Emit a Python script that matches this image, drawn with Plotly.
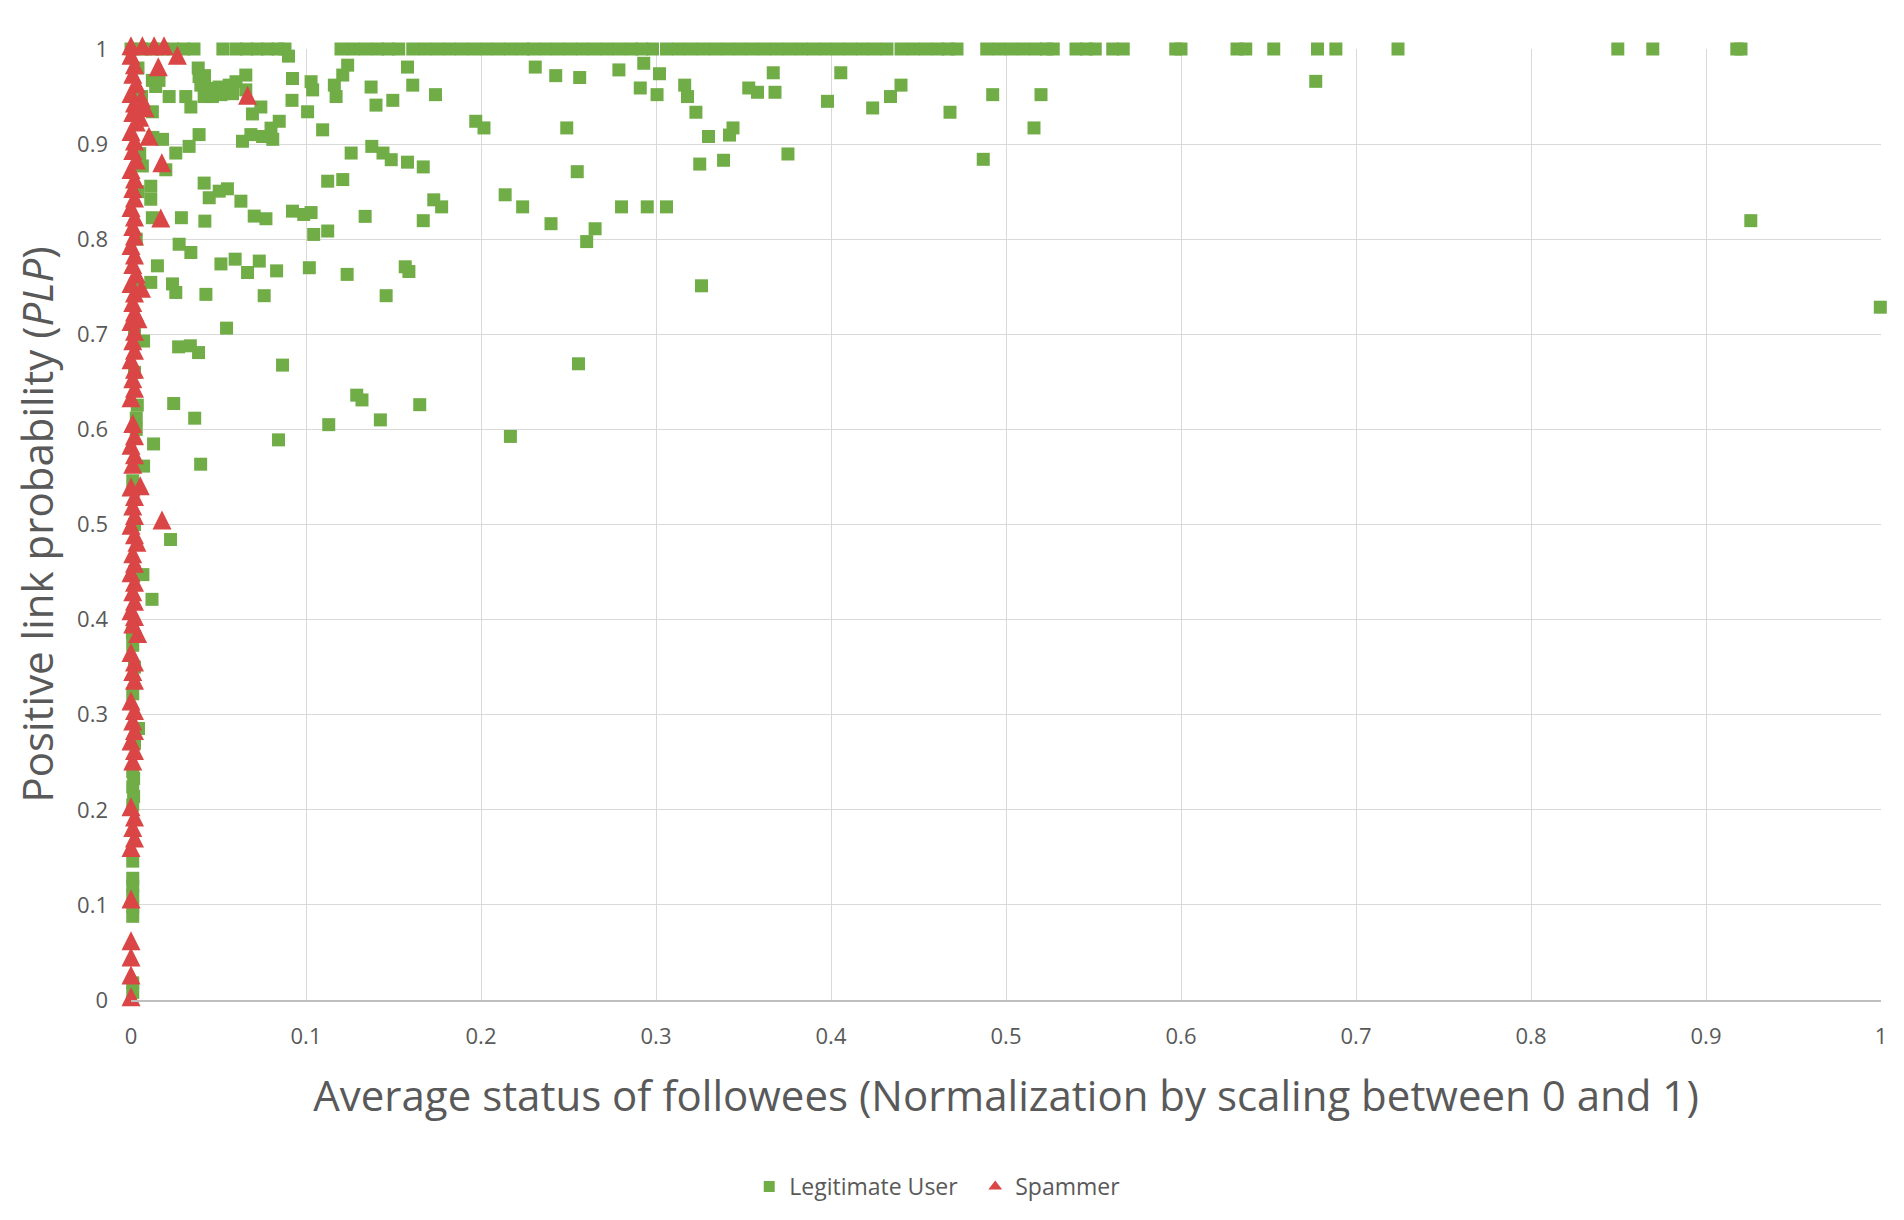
import plotly.graph_objects as go

# ---------------- data ----------------
# Legitimate users lying on the PLP = 1 line (x positions)
legit_top_x = [
    0.000, 0.006, 0.012, 0.018, 0.024, 0.030, 0.036,
    0.0525, 0.060, 0.066, 0.072, 0.078, 0.084, 0.088,
    0.120, 0.127, 0.134, 0.141, 0.147, 0.153, 0.161, 0.168, 0.175, 0.182,
    0.189, 0.196, 0.203, 0.210, 0.217, 0.224, 0.230, 0.237, 0.244, 0.251,
    0.258, 0.265, 0.272, 0.279, 0.286, 0.292, 0.298, 0.306, 0.313, 0.320,
    0.327, 0.334, 0.341, 0.348, 0.355, 0.362, 0.369, 0.376, 0.383, 0.390,
    0.397, 0.404, 0.411, 0.418, 0.425, 0.432, 0.440, 0.447, 0.454, 0.461,
    0.467, 0.472,
    0.489, 0.496, 0.503, 0.510, 0.517, 0.523, 0.527,
    0.540, 0.546, 0.551, 0.561, 0.567, 0.597, 0.600, 0.632, 0.637,
    0.653, 0.678, 0.6885, 0.724, 0.8496, 0.8696, 0.9176, 0.920,
]
legit_top_y = 1.0

# Other legitimate users
legit_x = [
    # column at x ~ 0
    0.001, 0.001, 0.001, 0.001, 0.001, 0.001, 0.001, 0.001, 0.001, 0.0015,
    0.001, 0.0015, 0.001, 0.001, 0.001, 0.0008, 0.001, 0.002, 0.002, 0.002,
    0.002, 0.003, 0.003, 0.004, 0.005, 0.006, 0.004, 0.002, 0.002, 0.003,
    0.0043, 0.0036, 0.003, 0.0072, 0.0068, 0.012, 0.0072,
    # x < 0.16
    0.0384, 0.0389, 0.0420, 0.0656, 0.0656, 0.0399, 0.0447, 0.0504, 0.0561, 0.0600,
    0.0418, 0.0465, 0.0514, 0.0580, 0.0218, 0.0313, 0.0342, 0.0122, 0.0141, 0.0122,
    0.0160, 0.0694, 0.0742, 0.0847, 0.0800, 0.0752, 0.0810, 0.0637, 0.0685, 0.0389,
    0.0332, 0.0256, 0.0199, 0.0180, 0.0125, 0.0065, 0.0113, 0.0418, 0.0447, 0.0504,
    0.0551, 0.0628, 0.0704, 0.0771, 0.0422, 0.0288, 0.0113, 0.0122, 0.0923, 0.0987,
    0.1029, 0.1044, 0.1124, 0.1338, 0.0275, 0.0342, 0.0151, 0.0113, 0.0237, 0.0256,
    0.0428, 0.0514, 0.0595, 0.0666, 0.0733, 0.0832, 0.1019, 0.1235, 0.0761, 0.1458,
    0.1095, 0.1258, 0.1376, 0.1440, 0.1487, 0.1124, 0.1210, 0.0923, 0.1029, 0.1038,
    0.0920, 0.1009, 0.1162, 0.1172, 0.1210, 0.1238, 0.1372, 0.1400, 0.1496, 0.0900,
    0.0546, 0.0272, 0.0339, 0.0386, 0.0866, 0.0244, 0.0364, 0.0129, 0.0843, 0.0398,
    0.0226, 0.129, 0.132, 0.165, 0.1425, 0.113, 0.2168,
    # x >= 0.15
    0.158, 0.161, 0.174, 0.197, 0.2017, 0.231, 0.2427, 0.2564, 0.249, 0.2788,
    0.293, 0.302, 0.291, 0.3006, 0.3164, 0.318, 0.3228, 0.330, 0.342, 0.344,
    0.353, 0.358, 0.368, 0.367, 0.398, 0.4056, 0.4238, 0.434, 0.440, 0.468,
    0.4924, 0.487, 0.158, 0.167, 0.255, 0.325, 0.3386, 0.3754, 0.173, 0.1775,
    0.167, 0.2138, 0.2238, 0.240, 0.2652, 0.2604, 0.2803, 0.295, 0.306, 0.1567,
    0.1588, 0.326, 0.2557,
    0.677, 0.520, 0.516, 0.9256, 0.9996,
]
legit_y = [
    # column at x ~ 0
    0.008, 0.018, 0.088, 0.098, 0.110, 0.120, 0.128, 0.146, 0.205, 0.214,
    0.224, 0.233, 0.240, 0.322, 0.373, 0.386, 0.546, 0.450, 0.500, 0.660,
    0.700, 0.750, 0.800, 0.850, 0.890, 0.950, 0.980, 0.270, 0.350, 0.600,
    0.2855, 0.6255, 0.612, 0.6929, 0.4473, 0.4213, 0.5614,
    # x < 0.16
    0.980, 0.971, 0.972, 0.9726, 0.957, 0.962, 0.9587, 0.960, 0.962, 0.9656,
    0.950, 0.950, 0.952, 0.953, 0.950, 0.950, 0.939, 0.934, 0.9606, 0.967,
    0.967, 0.9317, 0.939, 0.924, 0.9168, 0.908, 0.905, 0.903, 0.910, 0.910,
    0.8976, 0.8906, 0.873, 0.905, 0.907, 0.877, 0.8557, 0.859, 0.8436, 0.8505,
    0.853, 0.840, 0.8243, 0.8215, 0.819, 0.8226, 0.842, 0.8226, 0.8295, 0.826,
    0.828, 0.805, 0.8086, 0.824, 0.7947, 0.786, 0.772, 0.7546, 0.753, 0.744,
    0.742, 0.774, 0.779, 0.765, 0.777, 0.7667, 0.770, 0.763, 0.7406, 0.7406,
    0.915, 0.8906, 0.8976, 0.8906, 0.8836, 0.861, 0.8627, 0.969, 0.9656, 0.957,
    0.946, 0.934, 0.962, 0.950, 0.9726, 0.983, 0.960, 0.941, 0.946, 0.9925,
    0.7065, 0.6868, 0.6879, 0.6808, 0.6676, 0.6272, 0.6118, 0.5847, 0.589, 0.5634,
    0.4842, 0.636, 0.631, 0.626, 0.610, 0.605, 0.5926,
    # x >= 0.15
    0.981, 0.962, 0.952, 0.924, 0.917, 0.981, 0.972, 0.970, 0.917, 0.978,
    0.985, 0.974, 0.959, 0.952, 0.962, 0.950, 0.9335, 0.908, 0.9095, 0.917,
    0.959, 0.9545, 0.9545, 0.975, 0.945, 0.975, 0.938, 0.950, 0.962, 0.9335,
    0.952, 0.884, 0.881, 0.876, 0.871, 0.879, 0.883, 0.8896, 0.8414, 0.834,
    0.8195, 0.8467, 0.834, 0.8163, 0.811, 0.7975, 0.834, 0.834, 0.834, 0.771,
    0.766, 0.751, 0.669,
    0.966, 0.952, 0.917, 0.8195, 0.7285,
]

# Spammers
spam_x = [
    0.000, 0.0065, 0.0132, 0.0189, 0.0265, 0.0156, 0.0666, 0.0103, 0.0176, 0.0170,
    0.0177, 0.0053, 0.0034, 0.0038, 0.008, 0.006, 0.005, 0.006, 0.004,
    # column 0.99 .. 0.63
    0.000, 0.002, 0.001, 0.003, 0.000, 0.002, 0.001, 0.003, 0.000, 0.002,
    0.001, 0.003, 0.000, 0.002, 0.001, 0.002, 0.000, 0.002, 0.001, 0.002,
    0.000, 0.002, 0.001, 0.003, 0.000, 0.002, 0.001, 0.002, 0.000, 0.002,
    0.001, 0.002, 0.000, 0.002, 0.001, 0.002, 0.000,
    # 0.603 .. 0.560
    0.001, 0.002, 0.000, 0.002, 0.001,
    # 0.536 .. 0.392
    0.000, 0.002, 0.001, 0.002, 0.000, 0.002, 0.001, 0.002, 0.000, 0.002,
    0.001, 0.002, 0.000, 0.002, 0.001,
    # 0.362 .. 0.333
    0.000, 0.002, 0.001, 0.002,
    # 0.311 .. 0.248
    0.000, 0.002, 0.001, 0.002, 0.000, 0.002, 0.001,
    # 0.200 .. 0.157
    0.000, 0.002, 0.001, 0.002, 0.000,
    # bottom
    0.000, 0.000, 0.000, 0.000, 0.000,
]
spam_y = [
    1.0, 1.0, 1.0, 1.0, 0.990, 0.978, 0.948, 0.905, 0.877, 0.819,
    0.5015, 0.5375, 0.478, 0.382, 0.935, 0.945, 0.925, 0.745, 0.713,
    0.99, 0.98, 0.97, 0.96, 0.95, 0.94, 0.93, 0.92, 0.91, 0.90,
    0.89, 0.88, 0.87, 0.86, 0.85, 0.84, 0.83, 0.82, 0.81, 0.80,
    0.79, 0.78, 0.77, 0.76, 0.75, 0.74, 0.73, 0.72, 0.71, 0.70,
    0.69, 0.68, 0.67, 0.66, 0.65, 0.64, 0.63,
    0.603, 0.590, 0.580, 0.570, 0.560,
    0.536, 0.526, 0.516, 0.506, 0.496, 0.486, 0.466, 0.456, 0.446, 0.436,
    0.426, 0.416, 0.406, 0.400, 0.392,
    0.362, 0.352, 0.342, 0.333,
    0.311, 0.301, 0.290, 0.280, 0.269, 0.259, 0.248,
    0.200, 0.189, 0.178, 0.167, 0.157,
    0.103, 0.059, 0.042, 0.023, 0.000,
]

tick_vals = [0, 0.1, 0.2, 0.3, 0.4, 0.5, 0.6, 0.7, 0.8, 0.9, 1]
tick_text = ["0", "0.1", "0.2", "0.3", "0.4", "0.5", "0.6", "0.7", "0.8", "0.9", "1"]

series_names = ["Legitimate User", "Spammer"]
GREEN = "#70AD47"
RED = "#DA4545"
TEXT = "#595959"
FONT = "Open Sans"

# spammer marker: a tall triangle (as tall as it is wide), centred on its centroid
TRI_SIZE = 19

# ---------------- figure ----------------
all_legit_x = legit_top_x + legit_x
all_legit_y = [legit_top_y for _ in legit_top_x] + legit_y

fig = go.Figure()
fig.add_trace(go.Scatter(
    x=all_legit_x, y=all_legit_y, mode="markers", name=series_names[0],
    marker=dict(symbol="square", size=13, color=GREEN, line=dict(width=0)),
    cliponaxis=False, showlegend=False,
))
fig.add_trace(go.Scatter(
    x=spam_x, y=spam_y, mode="markers", name=series_names[1],
    marker=dict(symbol="arrow-down", angle=180, standoff=TRI_SIZE * 2 / 3,
                size=TRI_SIZE, color=RED, line=dict(width=0)),
    cliponaxis=False, showlegend=False,
))
# legend entries (smaller symbols, as in the reference)
fig.add_trace(go.Scatter(
    x=[None], y=[None], mode="markers", name=series_names[0],
    marker=dict(symbol="square", size=11, color=GREEN),
))
fig.add_trace(go.Scatter(
    x=[None], y=[None], mode="markers", name=series_names[1],
    marker=dict(symbol="triangle-up", size=12, color=RED),
))

fig.update_layout(
    width=1904, height=1220,
    margin=dict(l=123, r=31, t=41, b=228, autoexpand=False),
    paper_bgcolor="white", plot_bgcolor="white",
    font=dict(family=FONT, color=TEXT, size=22),
    legend=dict(
        orientation="h", xref="container", x=0.508, xanchor="center",
        yref="container", y=0.034, yanchor="middle",
        font=dict(family=FONT, size=23, color=TEXT),
        itemwidth=30, entrywidth=181, entrywidthmode="pixels",
        traceorder="normal",
    ),
)
fig.update_xaxes(
    range=[0, 1], tickvals=tick_vals, ticktext=tick_text,
    showgrid=True, gridcolor="#D9D9D9", gridwidth=1.3,
    zeroline=False, showline=True, linecolor="#BFBFBF", linewidth=1.5,
    ticks="", ticklabelstandoff=16,
    tickfont=dict(family=FONT, size=22, color=TEXT),
    title=dict(text="Average status of followees (Normalization by scaling between 0 and 1)",
               font=dict(family=FONT, size=42, color=TEXT), standoff=32),
)
fig.update_yaxes(
    range=[0, 1], tickvals=tick_vals, ticktext=tick_text,
    showgrid=True, gridcolor="#D9D9D9", gridwidth=1.3,
    zeroline=False, showline=False,
    ticks="", ticklabelstandoff=22,
    tickfont=dict(family=FONT, size=22, color=TEXT),
    title=dict(text="Positive link probability (<i>PLP</i>)",
               font=dict(family=FONT, size=42, color=TEXT), standoff=28),
)

fig.write_html("out.html")
